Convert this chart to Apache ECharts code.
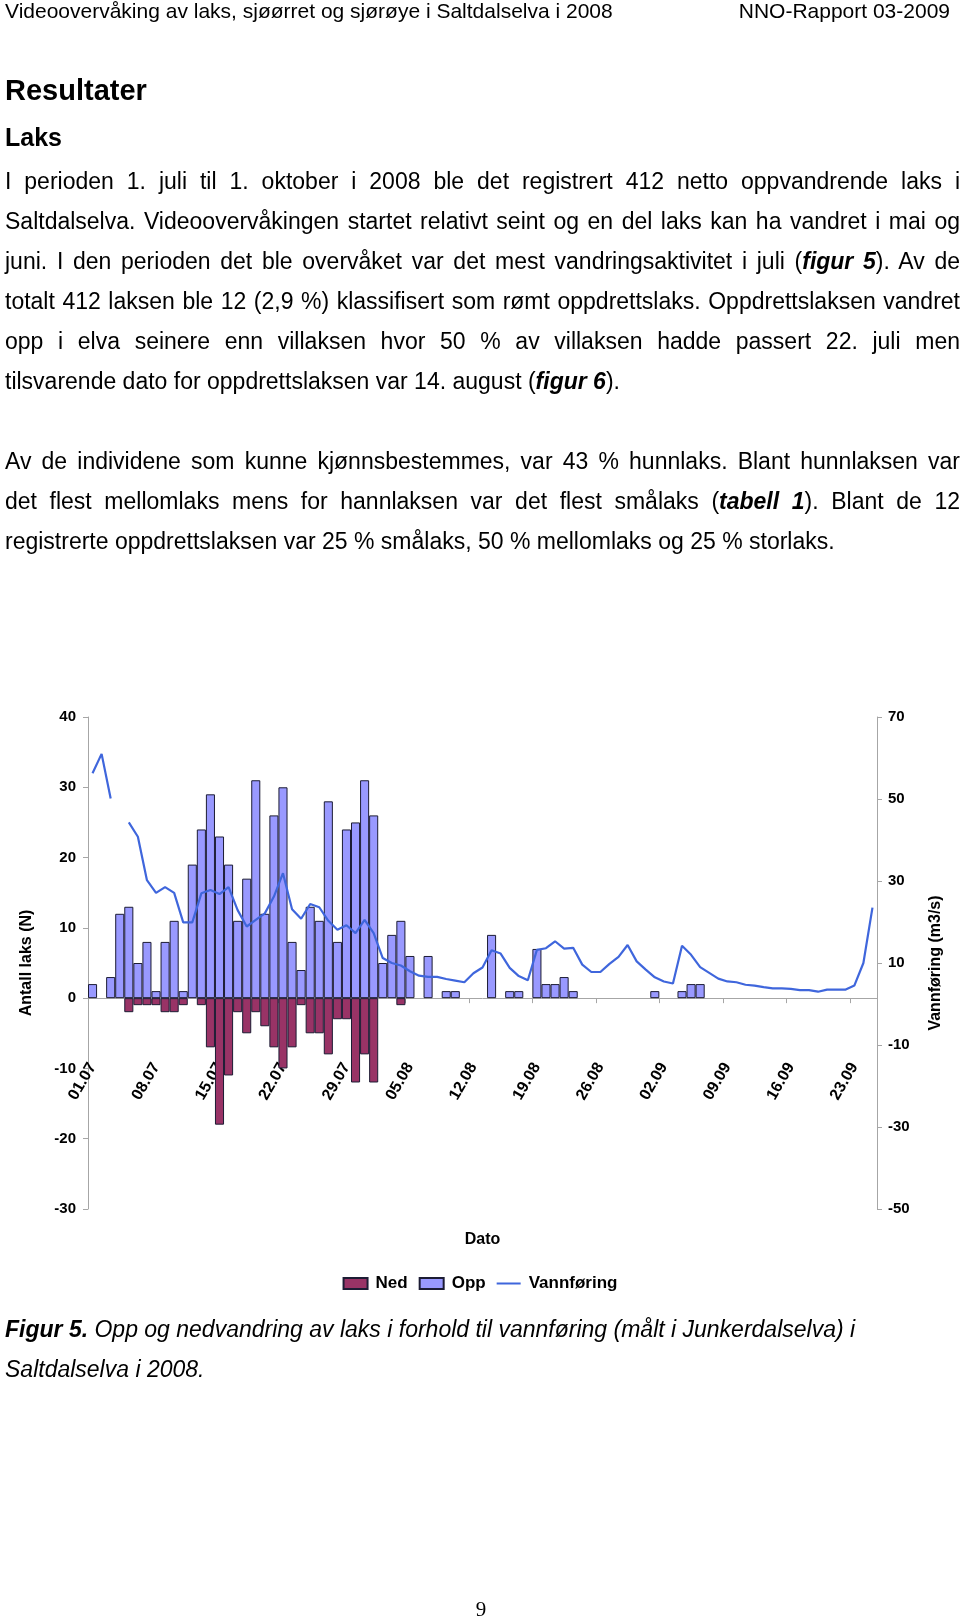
<!DOCTYPE html>
<html>
<head>
<meta charset="utf-8">
<script src="https://cdn.jsdelivr.net/npm/echarts@6/dist/echarts.min.js"></script>
<style>
  html, body { margin: 0; padding: 0; background: #fff; }
  body { width: 960px; height: 1620px; position: relative; overflow: hidden;
         font-family: "Liberation Sans", Arial, sans-serif; color: #000; }
  #chart { position: absolute; left: 0; top: 0; width: 960px; height: 1620px; }
  .t { position: absolute; left: 5px; white-space: nowrap; }
  .hdr { font-size: 21px; line-height: 22px; top: 0; }
  .hdr-r { position: absolute; right: 10px; top: 0; font-size: 21px; line-height: 22px; white-space: nowrap; }
  .h1 { font-size: 29px; font-weight: bold; line-height: 40px; top: 70px; }
  .h2 { font-size: 25px; font-weight: bold; line-height: 40px; top: 117px; }
  .p { font-size: 23px; line-height: 40px; width: 955px; }
  .j { text-align: justify; text-align-last: justify; }
  .cap { font-size: 23px; line-height: 40px; font-style: italic; }
  .pg { position: absolute; left: 0; width: 962px; text-align: center; top: 1597px;
        font-family: "Liberation Serif", "Times New Roman", serif; font-size: 21px; line-height: 24px; }
  b i, i b { font-weight: bold; font-style: italic; }
</style>
</head>
<body>
<div id="chart"></div>

<div class="t hdr">Videoovervåking av laks, sjøørret og sjørøye i Saltdalselva i 2008</div>
<div class="hdr-r">NNO-Rapport 03-2009</div>

<div class="t h1">Resultater</div>
<div class="t h2">Laks</div>

<div class="t p j" style="top:161px">I perioden 1. juli til 1. oktober i 2008 ble det registrert 412 netto oppvandrende laks i</div>
<div class="t p j" style="top:201px">Saltdalselva. Videoovervåkingen startet relativt seint og en del laks kan ha vandret i mai og</div>
<div class="t p j" style="top:241px">juni. I den perioden det ble overvåket var det mest vandringsaktivitet i juli (<b><i>figur 5</i></b>). Av de</div>
<div class="t p j" style="top:281px">totalt 412 laksen ble 12 (2,9 %) klassifisert som rømt oppdrettslaks. Oppdrettslaksen vandret</div>
<div class="t p j" style="top:321px">opp i elva seinere enn villaksen hvor 50 % av villaksen hadde passert 22. juli men</div>
<div class="t p" style="top:361px">tilsvarende dato for oppdrettslaksen var 14. august (<b><i>figur 6</i></b>).</div>

<div class="t p j" style="top:441px">Av de individene som kunne kjønnsbestemmes, var 43 % hunnlaks. Blant hunnlaksen var</div>
<div class="t p j" style="top:481px">det flest mellomlaks mens for hannlaksen var det flest smålaks (<b><i>tabell 1</i></b>). Blant de 12</div>
<div class="t p" style="top:521px">registrerte oppdrettslaksen var 25 % smålaks, 50 % mellomlaks og 25 % storlaks.</div>

<div class="t cap" style="top:1309px"><b>Figur 5.</b> Opp og nedvandring av laks i forhold til vannføring (målt i Junkerdalselva) i</div>
<div class="t cap" style="top:1349px">Saltdalselva i 2008.</div>

<div class="pg">9</div>

<script>
// ---- data ----
const dates = [
  '01.07','02.07','03.07','04.07','05.07','06.07','07.07','08.07','09.07','10.07',
  '11.07','12.07','13.07','14.07','15.07','16.07','17.07','18.07','19.07','20.07',
  '21.07','22.07','23.07','24.07','25.07','26.07','27.07','28.07','29.07','30.07',
  '31.07','01.08','02.08','03.08','04.08','05.08','06.08','07.08','08.08','09.08',
  '10.08','11.08','12.08','13.08','14.08','15.08','16.08','17.08','18.08','19.08',
  '20.08','21.08','22.08','23.08','24.08','25.08','26.08','27.08','28.08','29.08',
  '30.08','31.08','01.09','02.09','03.09','04.09','05.09','06.09','07.09','08.09',
  '09.09','10.09','11.09','12.09','13.09','14.09','15.09','16.09','17.09','18.09',
  '19.09','20.09','21.09','22.09','23.09','24.09','25.09'
];

// Opp (upstream migrating salmon), per day
const opp = [
  2, null, 3, 12, 13, 5, 8, 1, 8, 11,
  1, 19, 24, 29, 23, 19, 11, 17, 31, 12,
  26, 30, 8, 4, 13, 11, 28, 8, 24, 25,
  31, 26, 5, 9, 11, 6, null, 6, null, 1,
  1, null, null, null, 9, null, 1, 1, null, 7,
  2, 2, 3, 1, null, null, null, null, null, null,
  null, null, 1, null, null, 1, 2, 2, null, null,
  null, null, null, null, null, null, null, null, null, null,
  null, null, null, null, null, null, null
];

// Ned (downstream migrating salmon), per day
const ned = [
  null, null, null, null, -2, -1, -1, -1, -2, -2,
  -1, null, -1, -7, -18, -11, -2, -5, -2, -4,
  -7, -10, -7, -1, -5, -5, -8, -3, -3, -12,
  -8, -12, null, null, -1, null, null, null, null, null,
  null, null, null, null, null, null, null, null, null, null,
  null, null, null, null, null, null, null, null, null, null,
  null, null, null, null, null, null, null, null, null, null,
  null, null, null, null, null, null, null, null, null, null,
  null, null, null, null, null, null, null
];

// Vannføring (m3/s), per day
const flow = [
  56.3, 61.0, 50.1, null, 44.3, 40.8, 30.2, 27.1, 28.5, 27.1,
  19.9, 19.9, 27.0, 27.8, 26.8, 28.5, 22.9, 18.9, 20.5, 22.1,
  26.2, 31.9, 23.1, 20.8, 24.4, 23.6, 20.3, 18.1, 19.2, 17.3,
  20.5, 17.3, 11.2, 10.0, 9.4, 8.0, 6.9, 6.6, 6.6, 6.1,
  5.7, 5.3, 7.5, 8.9, 13.1, 12.3, 8.8, 6.8, 5.8, 13.2,
  13.6, 15.3, 13.5, 13.7, 9.6, 7.8, 7.8, 9.8, 11.5, 14.4,
  10.4, 8.4, 6.5, 5.5, 5.0, 14.2, 12.0, 9.0, 7.6, 6.2,
  5.5, 5.3, 4.7, 4.5, 4.1, 3.8, 3.8, 3.7, 3.4, 3.4,
  3.0, 3.5, 3.5, 3.5, 4.5, 10.0, 23.5
];

const leftTicks = { min: -30, max: 40, interval: 10 };
const rightTicks = { min: -50, max: 70, interval: 20 };

const chart = echarts.init(document.getElementById('chart'), null, { renderer: 'canvas' });
const FONT = '"Liberation Sans", Arial, sans-serif';
const axisGray = '#a6a6a6';

const gridTop = 717, gridBottomY = 1209;
const gridH = gridBottomY - gridTop;
// shift the category axis up so it sits on the left axis' zero line
const zeroShift = -gridH * (0 - leftTicks.min) / (leftTicks.max - leftTicks.min);

chart.setOption({
  animation: false,
  textStyle: { fontFamily: FONT },
  grid: { left: 88, right: 83, top: gridTop, bottom: 1620 - gridBottomY, containLabel: false },
  legend: {
    data: [
      { name: 'Ned' },
      { name: 'Opp' },
      { name: 'Vannføring', icon: 'path://M0,0 L0.01,0 L0.01,0.01 Z M0,4.6 L24,4.6 L24,6.4 L0,6.4 Z M23.99,10.99 L24,10.99 L24,11 Z' }
    ],
    icon: 'rect',
    left: 'center',
    top: 1270,
    itemWidth: 24,
    itemHeight: 11,
    itemGap: 11,
    textStyle: { fontFamily: FONT, fontSize: 17, fontWeight: 'bold', color: '#000', padding: [0, 0, 0, 3] }
  },
  xAxis: {
    type: 'category',
    data: dates,
    boundaryGap: true,
    offset: zeroShift,
    name: 'Dato',
    nameLocation: 'middle',
    nameGap: 233,
    nameTextStyle: { fontFamily: FONT, fontSize: 16, fontWeight: 'bold', color: '#000' },
    axisLine: { onZero: false, lineStyle: { color: axisGray, width: 1 } },
    axisTick: { show: true, interval: 6, length: 5, alignWithLabel: false, lineStyle: { color: axisGray } },
    axisLabel: { interval: 6, rotate: 60, margin: 66, fontFamily: FONT, fontSize: 16, fontWeight: 'bold', color: '#000' },
    splitLine: { show: false }
  },
  yAxis: [
    {
      type: 'value',
      position: 'left',
      min: leftTicks.min, max: leftTicks.max, interval: leftTicks.interval,
      name: 'Antall laks (N)',
      nameLocation: 'middle',
      nameGap: 53,
      nameTextStyle: { fontFamily: FONT, fontSize: 16, fontWeight: 'bold', color: '#000' },
      axisLine: { show: true, onZero: false, lineStyle: { color: axisGray } },
      axisTick: { show: true, length: 5, lineStyle: { color: axisGray } },
      axisLabel: { margin: 12, fontFamily: FONT, fontSize: 15, fontWeight: 'bold', color: '#000' },
      splitLine: { show: false }
    },
    {
      type: 'value',
      position: 'right',
      min: rightTicks.min, max: rightTicks.max, interval: rightTicks.interval,
      name: 'Vannføring (m3/s)',
      nameLocation: 'middle',
      nameGap: 51,
      nameTextStyle: { fontFamily: FONT, fontSize: 16, fontWeight: 'bold', color: '#000' },
      axisLine: { show: true, onZero: false, lineStyle: { color: axisGray } },
      axisTick: { show: true, length: 5, lineStyle: { color: axisGray } },
      axisLabel: { margin: 11, fontFamily: FONT, fontSize: 15, fontWeight: 'bold', color: '#000' },
      splitLine: { show: false }
    }
  ],
  series: [
    {
      name: 'Ned',
      type: 'bar',
      stack: 'laks',
      yAxisIndex: 0,
      data: ned,
      barCategoryGap: '0%',
      itemStyle: { color: '#993366', borderColor: '#1c1c34', borderWidth: 1 }
    },
    {
      name: 'Opp',
      type: 'bar',
      stack: 'laks',
      yAxisIndex: 0,
      data: opp,
      barCategoryGap: '0%',
      itemStyle: { color: '#9999ff', borderColor: '#1c1c34', borderWidth: 1 }
    },
    {
      name: 'Vannføring',
      type: 'line',
      yAxisIndex: 1,
      data: flow,
      symbol: 'none',
      connectNulls: false,
      z: 5,
      lineStyle: { color: '#3f66dc', width: 2.2 },
      itemStyle: { color: '#3f66dc' }
    }
  ]
});
</script>
</body>
</html>
